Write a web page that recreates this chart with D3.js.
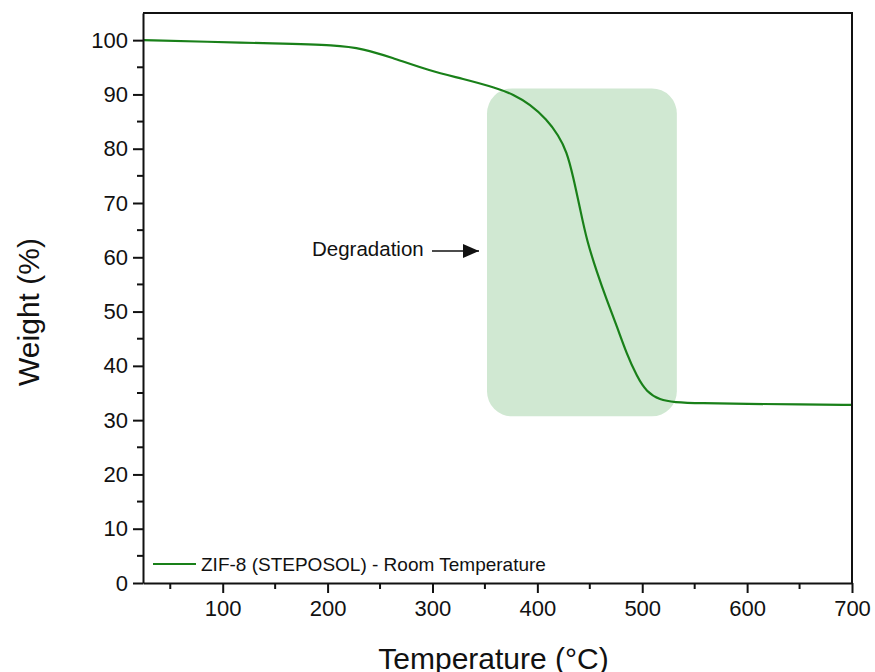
<!DOCTYPE html>
<html>
<head>
<meta charset="utf-8">
<script src="https://cdn.jsdelivr.net/npm/d3@7"></script>
<style>
  body { margin: 0; background: #fff; }
  svg text { font-family: "Liberation Sans", Arial, sans-serif; fill: #111; }
</style>
</head>
<body>
<div id="chart"></div>
<script>
// TGA curve: temperature (°C) and weight (%)
const temperature = [24, 85, 148, 209, 234, 260, 298, 329, 361, 377, 393, 409, 420, 428, 434, 441, 447, 457, 466, 476, 485, 495, 504, 517, 530, 555, 600, 650, 700];
const weight      = [100, 99.7, 99.4, 99.1, 98.4, 96.9, 94.3, 92.9, 91.2, 90.0, 88.2, 85.4, 82.5, 79.5, 75.0, 68.7, 63.2, 57.1, 52.2, 47.2, 42.3, 38.0, 35.2, 33.7, 33.3, 33.1, 33.0, 32.9, 32.8];

const xTicks = [100, 200, 300, 400, 500, 600, 700];
const yTicks = [0, 10, 20, 30, 40, 50, 60, 70, 80, 90, 100];
const seriesName = 'ZIF-8 (STEPOSOL) - Room Temperature';
const annotationText = 'Degradation';
// highlighted degradation window [x0, x1, y0, y1] in data units
const degradationBox = [352, 533, 30.7, 91.1];

const W = 875, H = 672;
const margin = { top: 13, right: 23, bottom: 89, left: 143 };
const width = W - margin.left - margin.right;
const height = H - margin.top - margin.bottom;

const svg = d3.select('#chart').append('svg')
  .attr('width', W).attr('height', H);
const g = svg.append('g').attr('transform', `translate(${margin.left},${margin.top})`);

const x = d3.scaleLinear().domain([24, 700]).range([0, width]);
const y = d3.scaleLinear().domain([0, 105]).range([height, 0]);

// shaded degradation area
g.append('rect')
  .attr('x', x(degradationBox[0]))
  .attr('y', y(degradationBox[3]))
  .attr('width', x(degradationBox[1]) - x(degradationBox[0]))
  .attr('height', y(degradationBox[2]) - y(degradationBox[3]))
  .attr('rx', 25).attr('ry', 25)
  .attr('fill', '#d0e8d2');

// curve
const data = temperature.map((t, i) => ({ t, w: weight[i] }));
const line = d3.line().x(d => x(d.t)).y(d => y(d.w)).curve(d3.curveBasis);
g.append('path').datum(data)
  .attr('d', line)
  .attr('fill', 'none')
  .attr('stroke', '#198019')
  .attr('stroke-width', 2.2);

// frame (top and right)
g.append('path')
  .attr('d', `M0,0H${width}V${height}`)
  .attr('fill', 'none').attr('stroke', '#111').attr('stroke-width', 2);

// minor ticks
const xMinor = d3.range(50, 701, 100);
const yMinor = d3.range(5, 105, 10);
g.append('g').attr('transform', `translate(0,${height})`)
  .selectAll('line').data(xMinor).join('line')
  .attr('x1', d => x(d)).attr('x2', d => x(d))
  .attr('y1', 0).attr('y2', 6)
  .attr('stroke', '#111').attr('stroke-width', 2);
g.append('g')
  .selectAll('line').data(yMinor).join('line')
  .attr('y1', d => y(d)).attr('y2', d => y(d))
  .attr('x1', 0).attr('x2', -6)
  .attr('stroke', '#111').attr('stroke-width', 2);

// axes
const xAxis = g.append('g').attr('transform', `translate(0,${height})`)
  .call(d3.axisBottom(x).tickValues(xTicks).tickSize(10).tickPadding(7).tickSizeOuter(0));
const yAxis = g.append('g')
  .call(d3.axisLeft(y).tickValues(yTicks).tickSize(10).tickPadding(5).tickSizeOuter(0));
[xAxis, yAxis].forEach(ax => {
  ax.select('.domain').attr('stroke', '#111').attr('stroke-width', 2);
  ax.selectAll('.tick line').attr('stroke', '#111').attr('stroke-width', 2);
  ax.selectAll('.tick text').style('font-size', '22px').attr('fill', '#111');
});

// axis titles
g.append('text')
  .attr('x', width / 2 - 4).attr('y', height + 86)
  .attr('text-anchor', 'middle')
  .style('font-size', '30px')
  .text('Temperature (°C)');
g.append('text')
  .attr('transform', `translate(${-104},${height / 2 + 14}) rotate(-90)`)
  .attr('text-anchor', 'middle')
  .style('font-size', '30px')
  .text('Weight (%)');

// annotation
svg.append('defs').append('marker')
  .attr('id', 'arrow').attr('viewBox', '0 0 10 10')
  .attr('refX', 10).attr('refY', 5)
  .attr('markerWidth', 16).attr('markerHeight', 14)
  .attr('markerUnits', 'userSpaceOnUse')
  .attr('orient', 'auto')
  .attr('preserveAspectRatio', 'none')
  .append('path').attr('d', 'M0,0L10,5L0,10Z').attr('fill', '#111');

const annX = 312 - margin.left, annY = 256 - margin.top;
g.append('text')
  .attr('x', annX).attr('y', annY)
  .style('font-size', '20.5px')
  .text(annotationText);
g.append('line')
  .attr('x1', 432 - margin.left).attr('x2', 479 - margin.left)
  .attr('y1', 251 - margin.top).attr('y2', 251 - margin.top)
  .attr('stroke', '#111').attr('stroke-width', 1.3)
  .attr('marker-end', 'url(#arrow)');

// legend
const legY = 564 - margin.top;
g.append('line')
  .attr('x1', 153 - margin.left).attr('x2', 196 - margin.left)
  .attr('y1', legY).attr('y2', legY)
  .attr('stroke', '#198019').attr('stroke-width', 2.2);
g.append('text')
  .attr('x', 201 - margin.left).attr('y', legY + 6.5)
  .style('font-size', '19px')
  .text(seriesName);
</script>
</body>
</html>
